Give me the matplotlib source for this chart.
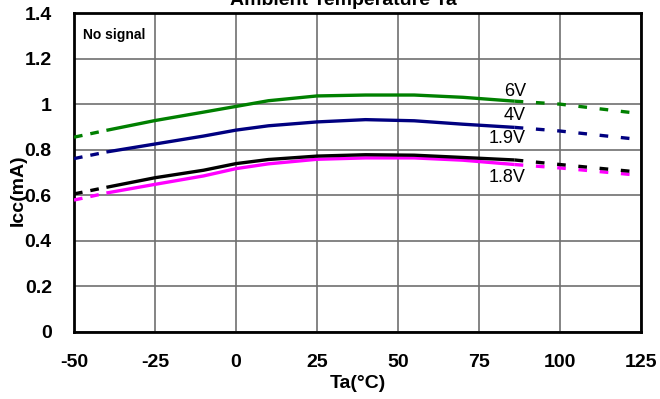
import matplotlib
matplotlib.use("Agg")
import matplotlib.pyplot as plt

# temperature points (degC) and supply current Icc (mA) for each supply voltage
ta = [-50, -40, -25, -10, 0, 10, 25, 40, 55, 70, 86, 100, 125]
icc_6v = [0.855, 0.885, 0.928, 0.965, 0.990, 1.015, 1.036, 1.040, 1.040, 1.030, 1.013, 1.000, 0.958]
icc_4v = [0.761, 0.790, 0.825, 0.860, 0.886, 0.905, 0.922, 0.932, 0.927, 0.912, 0.898, 0.882, 0.844]
icc_1v9 = [0.606, 0.635, 0.677, 0.710, 0.739, 0.757, 0.772, 0.778, 0.776, 0.766, 0.755, 0.735, 0.701]
icc_1v8 = [0.579, 0.610, 0.648, 0.685, 0.717, 0.738, 0.758, 0.764, 0.764, 0.754, 0.735, 0.720, 0.687]

series = [("6V", icc_6v, "#008000"),
          ("4V", icc_4v, "#000080"),
          ("1.9V", icc_1v9, "#000000"),
          ("1.8V", icc_1v8, "#ff00ff")]

# magenta goes under black like the original
draw_order = [0, 1, 3, 2]

xticks = [-50, -25, 0, 25, 50, 75, 100, 125]
yticks = [0, 0.2, 0.4, 0.6, 0.8, 1.0, 1.2, 1.4]
ytick_labels = ["0", "0.2", "0.4", "0.6", "0.8", "1", "1.2", "1.4"]

plt.rcParams['font.family'] = ['Liberation Sans', 'DejaVu Sans']
plt.rcParams['axes.unicode_minus'] = False

W, H = 660, 399
fig = plt.figure(figsize=(W / 100, H / 100), dpi=100)
ax = fig.add_axes([74 / W, 1 - 332 / H, (641 - 74) / W, (332 - 13) / H])

lo, hi = 1, 10   # index range of the solid (measured) part
for i in draw_order:
    name, vals, col = series[i]
    ax.plot(ta[lo:hi + 1], vals[lo:hi + 1], color=col, lw=2.4, solid_capstyle='butt', zorder=3)
    ax.plot(ta[:lo + 1], vals[:lo + 1], color=col, lw=2.4, dashes=(2.6, 2.4), zorder=3)
    ax.plot(ta[hi:], vals[hi:], color=col, lw=2.4, dashes=(2.6, 3.8), zorder=3)

ax.set_xlim(-50, 125)
ax.set_ylim(0, 1.4)
ax.set_xticks(xticks)
ax.set_yticks(yticks)
ax.set_yticklabels(ytick_labels)
ax.tick_params(length=0, labelsize=14)
ax.tick_params(axis='x', pad=16)
ax.tick_params(axis='y', pad=16)
for lab in ax.get_xticklabels() + ax.get_yticklabels():
    lab.set_fontweight('bold')
ax.grid(True, color='#707070', lw=1.2)
ax.set_axisbelow(True)
for sp in ax.spines.values():
    sp.set_linewidth(2)
    sp.set_color('black')

# voltage labels
ax.text(89.5, 1.054, "6V", ha='right', va='center', fontsize=13)
ax.text(89.5, 0.952, "4V", ha='right', va='center', fontsize=13)
ax.text(89.5, 0.849, "1.9V", ha='right', va='center', fontsize=13)
ax.text(89.5, 0.678, "1.8V", ha='right', va='center', fontsize=13)

ax.text(-47.3, 1.303, "No signal", ha='left', va='center', fontsize=10, fontweight='bold',
        bbox=dict(facecolor='white', edgecolor='none', pad=2), zorder=4)

fig.text(343 / W, 1 - 5 / H, "Ambient Temperature Ta", ha='center', va='baseline',
         fontsize=14, fontweight='bold')
fig.text(358 / W, 1 - 384 / H, "Ta(°C)", ha='center', va='center', fontsize=14, fontweight='bold')
fig.text(18 / W, 1 - 190 / H, "Icc(mA)", ha='center', va='center', rotation=90,
         fontsize=14, fontweight='bold')

fig.savefig("out.png", dpi=100)
